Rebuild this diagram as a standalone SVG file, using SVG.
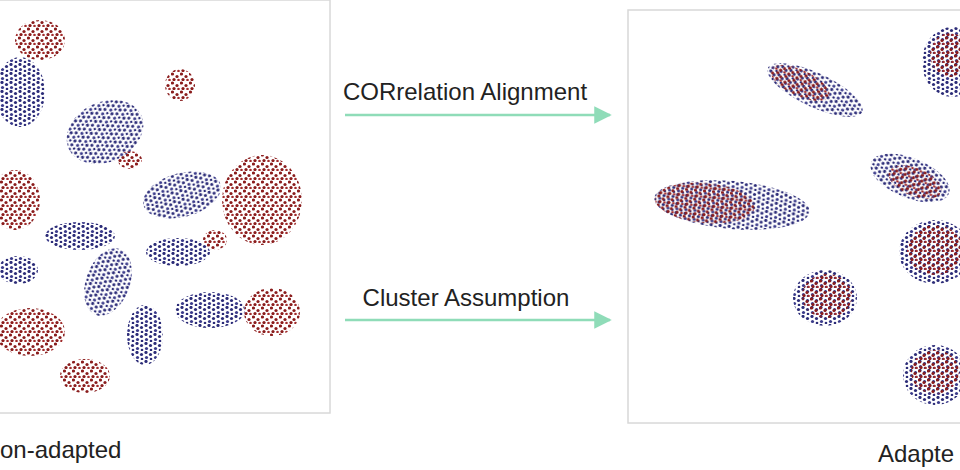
<svg xmlns="http://www.w3.org/2000/svg" width="960" height="470" viewBox="0 0 960 470">
<defs>
<pattern id="pr" width="9" height="9" patternUnits="userSpaceOnUse">
<circle cx="1.5" cy="2" r="1.6" fill="#8a1c1c"/><circle cx="6" cy="4.5" r="1.6" fill="#8a1c1c"/><circle cx="3" cy="7.5" r="1.6" fill="#8a1c1c"/><circle cx="7.5" cy="8" r="1.3" fill="#a02a2a"/>
</pattern>
<pattern id="pb" width="9" height="9" patternUnits="userSpaceOnUse">
<circle cx="2" cy="1.5" r="1.6" fill="#2c2c78"/><circle cx="6.5" cy="3.5" r="1.6" fill="#2c2c78"/><circle cx="2.5" cy="6.5" r="1.6" fill="#3a3a8a"/><circle cx="7" cy="8" r="1.3" fill="#2c2c78"/>
</pattern>
<marker id="ah" viewBox="0 0 10 10" refX="9" refY="5" markerWidth="7" markerHeight="7" orient="auto"><path d="M0,0 L10,5 L0,10 z" fill="#8fdcb8"/></marker>
<style>
.pn{fill:#fff;stroke:#d8d8d8;stroke-width:1.5}
.r{fill:url(#pr)} .b{fill:url(#pb)}
.t{font-family:"Liberation Sans",Arial,sans-serif;font-size:24px;fill:#222}
.c{stroke:#8fdcb8;stroke-width:2.5;fill:none;marker-end:url(#ah)}
</style>
</defs>
<rect width="960" height="470" fill="#fff"/>
<g id="left-panel">
<rect class="pn" x="-5" y="0" width="335" height="413"/>
<ellipse class="r" cx="40" cy="40" rx="25" ry="20"/>
<ellipse class="r" cx="180" cy="85" rx="15" ry="16"/>
<ellipse class="r" cx="262" cy="200" rx="40" ry="45"/>
<ellipse class="r" cx="15" cy="200" rx="25" ry="30"/>
<ellipse class="r" cx="272" cy="312" rx="28" ry="24"/>
<ellipse class="r" cx="30" cy="332" rx="35" ry="24"/>
<ellipse class="r" cx="85" cy="376" rx="25" ry="17"/>
<ellipse class="r" cx="215" cy="240" rx="12" ry="10"/>
<ellipse class="r" cx="130" cy="160" rx="12" ry="9"/>
<ellipse class="b" cx="20" cy="92" rx="25" ry="35"/>
<ellipse class="b" cx="105" cy="132" rx="40" ry="30" transform="rotate(-25 105 132)"/>
<ellipse class="b" cx="182" cy="195" rx="40" ry="22" transform="rotate(-15 182 195)"/>
<ellipse class="b" cx="80" cy="236" rx="35" ry="14"/>
<ellipse class="b" cx="178" cy="252" rx="32" ry="14"/>
<ellipse class="b" cx="18" cy="270" rx="20" ry="14"/>
<ellipse class="b" cx="108" cy="282" rx="22" ry="35" transform="rotate(20 108 282)"/>
<ellipse class="b" cx="210" cy="310" rx="35" ry="18"/>
<ellipse class="b" cx="145" cy="335" rx="18" ry="30"/>
</g>
<g id="right-panel">
<rect class="pn" x="628" y="10" width="340" height="413"/>
<ellipse class="b" cx="815" cy="90" rx="52" ry="17" transform="rotate(25 815 90)"/>
<ellipse class="r" cx="800" cy="83" rx="32" ry="13" transform="rotate(25 800 83)"/>
<ellipse class="b" cx="952" cy="62" rx="30" ry="35"/>
<ellipse class="r" cx="950" cy="55" rx="20" ry="22"/>
<ellipse class="b" cx="732" cy="205" rx="78" ry="24" transform="rotate(5 732 205)"/>
<ellipse class="r" cx="705" cy="203" rx="50" ry="20" transform="rotate(5 705 203)"/>
<ellipse class="b" cx="910" cy="178" rx="42" ry="20" transform="rotate(22 910 178)"/>
<ellipse class="r" cx="915" cy="182" rx="28" ry="14" transform="rotate(22 915 182)"/>
<ellipse class="b" cx="935" cy="252" rx="36" ry="32"/>
<ellipse class="r" cx="935" cy="250" rx="28" ry="25"/>
<ellipse class="b" cx="825" cy="298" rx="32" ry="28"/>
<ellipse class="r" cx="827" cy="296" rx="25" ry="22"/>
<ellipse class="b" cx="935" cy="375" rx="32" ry="30"/>
<ellipse class="r" cx="935" cy="372" rx="24" ry="22"/>
</g>
<g id="connectors">
<line class="c" x1="345" y1="115" x2="610" y2="115"/>
<line class="c" x1="345" y1="320" x2="610" y2="320"/>
</g>
<g id="labels">
<text class="t" x="465" y="100" text-anchor="middle">CORrelation Alignment</text>
<text class="t" x="466" y="306" text-anchor="middle">Cluster Assumption</text>
<text class="t" x="0" y="458">on-adapted</text>
<text class="t" x="878" y="462">Adapte</text>
</g>
</svg>
